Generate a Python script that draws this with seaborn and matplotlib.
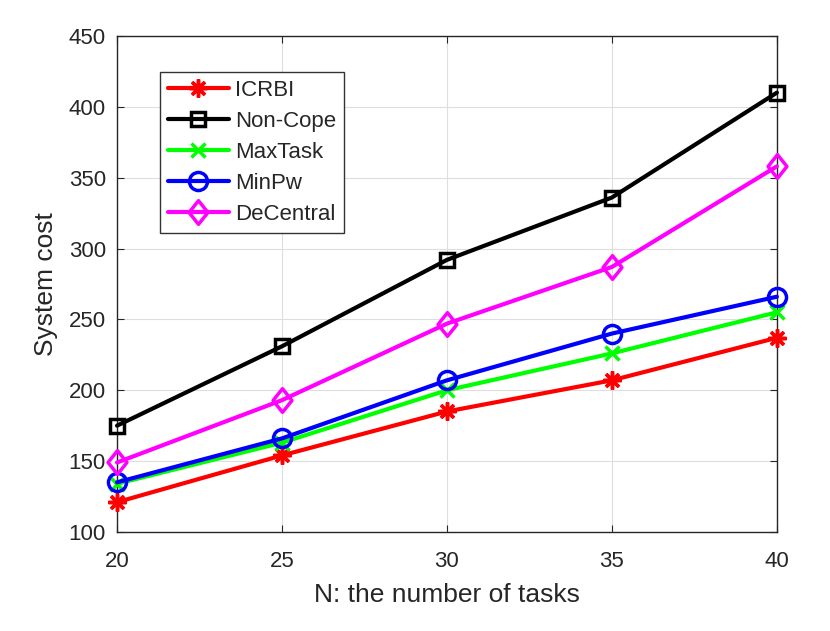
import pandas as pd
import seaborn as sns
import matplotlib.pyplot as plt
from matplotlib.path import Path

# dados
tarefas = [20, 25, 30, 35, 40]
icrbi = [121, 154, 185, 207, 237]
non_cope = [175, 231, 292, 336, 410]
max_task = [134, 163, 200, 226, 255]
min_pw = [135, 166, 207, 240, 266]
decentral = [149, 193, 247, 287, 358]

metodos = ["ICRBI", "Non-Cope", "MaxTask", "MinPw", "DeCentral"]
valores = [icrbi, non_cope, max_task, min_pw, decentral]
cores = ["#ff0000", "#000000", "#00ff00", "#0000ff", "#ff00ff"]

# losango do matlab (um pouco mais alto que largo)
losango = Path([(0, 1), (0.8, 0), (0, -1), (-0.8, 0), (0, 1)],
               [Path.MOVETO, Path.LINETO, Path.LINETO, Path.LINETO, Path.CLOSEPOLY])
marcadores = [(8, 2, 0), "s", "x", "o", losango]
tamanhos = [13, 10, 10, 13, 17]
vazado = [False, True, False, True, True]

sns.set_style("whitegrid")
plt.rcParams["font.family"] = ["Liberation Sans", "DejaVu Sans"]

fig = plt.figure(figsize=(8.3, 6.31), dpi=100)
ax = fig.add_axes([0.141, 0.157, 0.795, 0.786])

# uma linha por método (seaborn não mistura marcador cheio com marcador de linha)
for nome, v, c, m, t, vz in zip(metodos, valores, cores, marcadores, tamanhos, vazado):
    tabela = pd.DataFrame({"N": tarefas, "cost": v})
    sns.lineplot(data=tabela, x="N", y="cost", color=c, lw=3, marker=m,
                 markersize=t, markeredgewidth=2.5, markeredgecolor=c,
                 markerfacecolor="none" if vz else c, label=nome,
                 clip_on=False, zorder=3, ax=ax)

ax.set_xlim(20, 40)
ax.set_ylim(100, 450)
ax.set_xticks(tarefas)
ax.set_yticks(range(100, 451, 50))
ax.tick_params(labelsize=16, direction="in", length=5, color="#262626",
               top=True, right=True, bottom=True, left=True)
ax.tick_params(axis="x", pad=14)
ax.tick_params(axis="y", pad=8)
ax.set_xlabel("N: the number of tasks", fontsize=19, color="#262626", labelpad=8)
ax.set_ylabel("System cost", fontsize=19, color="#262626", labelpad=8)
ax.grid(True, color="#dedede", lw=0.8)
for s in ax.spines.values():
    s.set_color("#262626")
    s.set_linewidth(1)

leg = ax.legend(loc="upper left", bbox_to_anchor=(0.065, 0.927), fontsize=16,
                frameon=True, fancybox=False, edgecolor="#333333",
                handlelength=2.75, labelspacing=0.45, borderpad=0.35,
                handletextpad=0.3, borderaxespad=0)
leg.get_frame().set_linewidth(1)
leg.get_frame().set_alpha(1)

fig.savefig("out.png", dpi=100)
